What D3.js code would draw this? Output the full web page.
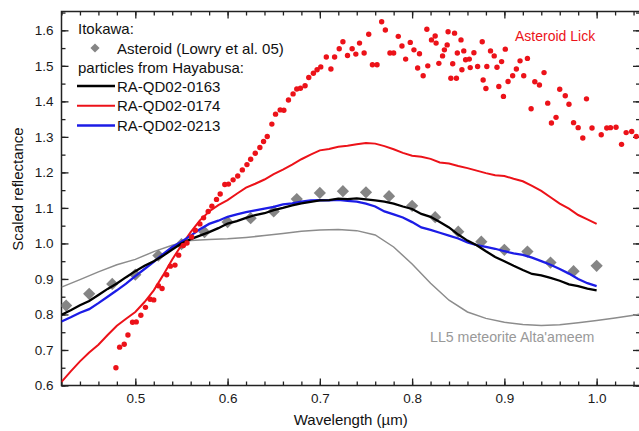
<!DOCTYPE html>
<html>
<head>
<meta charset="utf-8">
<script src="https://cdn.jsdelivr.net/npm/d3@7"></script>
<style>
  body { margin: 0; background: #fff; }
  svg { display: block; font-family: "Liberation Sans", Arial, sans-serif; }
</style>
</head>
<body>
<div class="container"></div>
<script>
// ---- data ----
const xMajor = [0.5, 0.6, 0.7, 0.8, 0.9, 1.0]
const xMinor = d3.range(0.42, 1.045, 0.02)
const yMajor = [0.6, 0.7, 0.8, 0.9, 1.0, 1.1, 1.2, 1.3, 1.4, 1.5, 1.6]
const yMinor = d3.range(0.6, 1.66, 0.05)

// Itokawa asteroid (Lowry et al. 05), grey diamonds
const lowryX = [0.425, 0.45, 0.475, 0.5, 0.525, 0.55, 0.575, 0.6, 0.625, 0.65, 0.675, 0.7,
  0.725, 0.75, 0.775, 0.8, 0.825, 0.85, 0.875, 0.9, 0.925, 0.95, 0.975, 1.0]
const lowryY = [0.825, 0.858, 0.886, 0.912, 0.966, 0.998, 1.032, 1.06, 1.071, 1.09, 1.125, 1.142,
  1.147, 1.144, 1.133, 1.106, 1.074, 1.033, 1.005, 0.982, 0.977, 0.946, 0.922, 0.937]

// particle spectra, sampled every 0.01 um from 0.42 to 1.00
const specX = d3.range(0.42, 1.005, 0.01)
const qd0163 = [0.799, 0.812, 0.826, 0.838, 0.855, 0.872, 0.887, 0.905, 0.922, 0.937,
  0.950, 0.965, 0.983, 1.0, 1.012, 1.022, 1.032, 1.043, 1.056, 1.063,
  1.072, 1.080, 1.085, 1.094, 1.100, 1.107, 1.113, 1.117, 1.121, 1.122,
  1.126, 1.125, 1.127, 1.124, 1.121, 1.118, 1.112, 1.104, 1.097, 1.083,
  1.075, 1.060, 1.045, 1.025, 1.008, 0.995, 0.978, 0.962, 0.950, 0.937,
  0.925, 0.914, 0.910, 0.903, 0.895, 0.885, 0.880, 0.873, 0.868]
const qd0174 = [0.61, 0.64, 0.668, 0.693, 0.715, 0.742, 0.768, 0.788, 0.807, 0.835,
  0.868, 0.91, 0.955, 0.995, 1.032, 1.065, 1.09, 1.108, 1.122, 1.14,
  1.157, 1.168, 1.18, 1.195, 1.208, 1.222, 1.237, 1.25, 1.262, 1.266,
  1.272, 1.275, 1.279, 1.283, 1.281, 1.274, 1.265, 1.255, 1.247, 1.244,
  1.238, 1.228, 1.225, 1.218, 1.212, 1.205, 1.198, 1.192, 1.19, 1.182,
  1.175, 1.162, 1.148, 1.13, 1.112, 1.098, 1.08, 1.068, 1.055]
const qd0213 = [0.78, 0.792, 0.805, 0.815, 0.832, 0.85, 0.868, 0.887, 0.908, 0.928,
  0.948, 0.970, 0.990, 1.005, 1.022, 1.040, 1.055, 1.064, 1.075, 1.082,
  1.088, 1.093, 1.098, 1.103, 1.110, 1.113, 1.118, 1.121, 1.122, 1.121,
  1.123, 1.120, 1.118, 1.112, 1.104, 1.090, 1.082, 1.073, 1.060, 1.045,
  1.038, 1.030, 1.022, 1.014, 1.003, 0.995, 0.990, 0.985, 0.978, 0.972,
  0.968, 0.960, 0.950, 0.940, 0.928, 0.915, 0.900, 0.888, 0.880]

// LL5 meteorite Alta'ameem
const ll5X = [0.42, 0.44, 0.46, 0.48, 0.50, 0.52, 0.54, 0.56, 0.58, 0.60, 0.62, 0.64, 0.66, 0.68,
  0.70, 0.72, 0.74, 0.76, 0.78, 0.80, 0.82, 0.84, 0.86, 0.88, 0.90, 0.92, 0.94, 0.96, 0.98,
  1.00, 1.02, 1.04, 1.05]
const ll5Y = [0.877, 0.898, 0.92, 0.94, 0.955, 0.977, 0.995, 1.008, 1.011, 1.013, 1.017, 1.022,
  1.028, 1.034, 1.038, 1.039, 1.036, 1.024, 0.99, 0.942, 0.888, 0.84, 0.807, 0.789, 0.778,
  0.772, 0.769, 0.771, 0.777, 0.783, 0.79, 0.798, 0.802]

// Asteroid Lick, red dots
const lickX = [0.479, 0.483, 0.488, 0.492, 0.497, 0.501, 0.506, 0.511, 0.516, 0.520,
  0.525, 0.529, 0.534, 0.538, 0.543, 0.547, 0.552, 0.556, 0.561, 0.565,
  0.570, 0.574, 0.579, 0.583, 0.588, 0.592, 0.597, 0.601, 0.606, 0.611,
  0.616, 0.621, 0.625, 0.630, 0.635, 0.639, 0.643, 0.648, 0.652, 0.657,
  0.661, 0.666, 0.671, 0.675, 0.679, 0.684, 0.688, 0.693, 0.697, 0.701,
  0.707, 0.712, 0.716, 0.721, 0.725, 0.730, 0.735, 0.739, 0.743, 0.748,
  0.753, 0.757, 0.762, 0.767, 0.771, 0.776, 0.780, 0.785, 0.789, 0.793,
  0.798, 0.802, 0.806, 0.808, 0.812, 0.816, 0.817, 0.821, 0.825, 0.826,
  0.829, 0.833, 0.835, 0.838, 0.839, 0.842, 0.844, 0.846, 0.848, 0.849,
  0.853, 0.854, 0.856, 0.858, 0.862, 0.863, 0.867, 0.871, 0.876, 0.877,
  0.880, 0.881, 0.885, 0.889, 0.892, 0.894, 0.897, 0.899, 0.901, 0.904,
  0.909, 0.913, 0.917, 0.921, 0.925, 0.929, 0.933, 0.938, 0.943, 0.947,
  0.951, 0.956, 0.960, 0.966, 0.970, 0.975, 0.980, 0.985, 0.989, 0.995,
  1.005, 1.011, 1.015, 1.021, 1.027, 1.032, 1.038, 1.043]
const lickY = [0.650, 0.708, 0.716, 0.742, 0.778, 0.779, 0.798, 0.820, 0.843, 0.841,
  0.881, 0.873, 0.912, 0.936, 0.939, 0.967, 0.994, 1.001, 1.018, 1.037,
  1.055, 1.072, 1.090, 1.105, 1.124, 1.139, 1.166, 1.167, 1.179, 1.190,
  1.207, 1.222, 1.237, 1.254, 1.270, 1.287, 1.301, 1.336, 1.364, 1.376,
  1.375, 1.404, 1.421, 1.435, 1.437, 1.444, 1.467, 1.479, 1.489, 1.497,
  1.525, 1.491, 1.525, 1.548, 1.568, 1.529, 1.548, 1.533, 1.564, 1.536,
  1.589, 1.503, 1.503, 1.624, 1.601, 1.536, 1.536, 1.583, 1.556, 1.519,
  1.566, 1.545, 1.494, 1.534, 1.472, 1.603, 1.500, 1.573, 1.584, 1.564,
  1.507, 1.528, 1.545, 1.559, 1.596, 1.465, 1.506, 1.592, 1.465, 1.536,
  1.573, 1.489, 1.542, 1.517, 1.519, 1.495, 1.537, 1.498, 1.568, 1.460,
  1.436, 1.498, 1.542, 1.528, 1.496, 1.442, 1.512, 1.414, 1.547, 1.456,
  1.472, 1.491, 1.514, 1.472, 1.521, 1.379, 1.455, 1.446, 1.481, 1.395,
  1.339, 1.355, 1.434, 1.416, 1.392, 1.340, 1.326, 1.297, 1.407, 1.325,
  1.306, 1.325, 1.326, 1.327, 1.279, 1.312, 1.315, 1.301]

const legendLines = ['RA-QD02-0163', 'RA-QD02-0174', 'RA-QD02-0213']

// ---- drawing ----
const W = 639, H = 431
const svg = d3.select('.container').append('svg')
  .attr('width', W).attr('height', H)

const x = d3.scaleLinear().domain([0.42, 1.047]).range([61.5, 640])
const y = d3.scaleLinear().domain([0.6, 1.653]).range([385.5, 11.5])

const black = '#000', red = '#ec1219', blue = '#1c1ce6', grey = '#858585'

svg.append('clipPath').attr('id', 'plot')
  .append('rect')
  .attr('x', x(0.42)).attr('y', y(1.653))
  .attr('width', x(1.047) - x(0.42)).attr('height', y(0.6) - y(1.653))

// axes: ticks point inward on all four sides
function axis(gen, scale, values, size, labels) {
  return gen(scale).tickValues(values).tickSizeInner(-size).tickSizeOuter(0)
    .tickPadding(labels ? 8 : 0)
    .tickFormat(labels ? d3.format('.1f') : '')
}
const axes = svg.append('g').attr('class', 'axes')
const axBottom = axes.append('g').attr('transform', `translate(0,${y(0.6)})`)
axBottom.call(axis(d3.axisBottom, x, xMinor, 4, false))
axBottom.append('g').call(axis(d3.axisBottom, x, xMajor, 7, true))
const axTop = axes.append('g').attr('transform', `translate(0,${y(1.653)})`)
axTop.call(axis(d3.axisTop, x, xMinor, 4, false))
axTop.append('g').call(axis(d3.axisTop, x, xMajor, 7, false))
const axLeft = axes.append('g').attr('transform', `translate(${x(0.42)},0)`)
axLeft.call(axis(d3.axisLeft, y, yMinor, 4, false))
axLeft.append('g').call(axis(d3.axisLeft, y, yMajor, 7, true))
const axRight = axes.append('g').attr('transform', `translate(${x(1.047)},0)`)
axRight.call(axis(d3.axisRight, y, yMinor, 4, false))
axRight.append('g').call(axis(d3.axisRight, y, yMajor, 7, false))

axes.selectAll('.domain').remove()
axes.selectAll('.tick line').attr('stroke', '#222').attr('stroke-width', 1.3)
axes.selectAll('.tick text').attr('font-size', 13.5).attr('fill', '#1a1a1a')
  .attr('font-family', '"Liberation Sans", Arial, sans-serif')

svg.append('rect')
  .attr('x', x(0.42)).attr('y', y(1.653))
  .attr('width', x(1.047) - x(0.42)).attr('height', y(0.6) - y(1.653))
  .attr('fill', 'none').attr('stroke', '#222').attr('stroke-width', 1.5)

// data layer
const plot = svg.append('g').attr('clip-path', 'url(#plot)')
const line = d3.line().x(d => x(d[0])).y(d => y(d[1]))

plot.append('path').datum(d3.zip(ll5X, ll5Y))
  .attr('d', line).attr('fill', 'none').attr('stroke', '#8c8c8c').attr('stroke-width', 1.5)

const diamond = d3.symbol().type(d3.symbolSquare)
plot.selectAll('.lowry').data(d3.zip(lowryX, lowryY)).join('path')
  .attr('class', 'lowry')
  .attr('d', diamond.size(75))
  .attr('transform', d => `translate(${x(d[0])},${y(d[1])}) rotate(45)`)
  .attr('fill', grey)

plot.append('path').datum(d3.zip(specX, qd0174))
  .attr('d', line).attr('fill', 'none').attr('stroke', red).attr('stroke-width', 2)
plot.append('path').datum(d3.zip(specX, qd0213))
  .attr('d', line).attr('fill', 'none').attr('stroke', blue).attr('stroke-width', 2.3)
plot.append('path').datum(d3.zip(specX, qd0163))
  .attr('d', line).attr('fill', 'none').attr('stroke', black).attr('stroke-width', 2.3)

plot.selectAll('.lick').data(d3.zip(lickX, lickY)).join('circle')
  .attr('class', 'lick')
  .attr('cx', d => x(d[0])).attr('cy', d => y(d[1])).attr('r', 2.7)
  .attr('fill', red)

// annotations
svg.append('text').attr('x', 515).attr('y', 41)
  .attr('font-size', 14).attr('fill', red).text('Asteroid Lick')
svg.append('text').attr('x', 430).attr('y', 342)
  .attr('font-size', 14.2).attr('fill', '#999').text("LL5 meteorite Alta'ameem")

// axis titles
svg.append('text').attr('x', (x(0.42) + x(1.047)) / 2).attr('y', 425)
  .attr('text-anchor', 'middle').attr('font-size', 15).attr('fill', '#111')
  .text('Wavelength (µm)')
svg.append('text').attr('transform', 'translate(23,189) rotate(-90)')
  .attr('text-anchor', 'middle').attr('font-size', 15).attr('fill', '#111')
  .text('Scaled reflectance')

// legend
const lg = svg.append('g').attr('font-size', 15).attr('fill', '#111')
lg.append('text').attr('x', 78).attr('y', 33.5).text('Itokawa:')
lg.append('path').attr('d', diamond.size(42))
  .attr('transform', 'translate(95,48) rotate(45)').attr('fill', grey)
lg.append('text').attr('x', 117).attr('y', 53.5).text('Asteroid (Lowry et al. 05)')
lg.append('text').attr('x', 78).attr('y', 72.5).text('particles from Hayabusa:')
const legendColors = [black, red, blue]
legendLines.forEach((name, i) => {
  const ly = 86 + i * 19.8
  lg.append('line').attr('x1', 77).attr('x2', 115).attr('y1', ly).attr('y2', ly)
    .attr('stroke', legendColors[i]).attr('stroke-width', i === 1 ? 2 : 2.5)
  lg.append('text').attr('x', 117).attr('y', ly + 5.5).text(name)
})
</script>
</body>
</html>
